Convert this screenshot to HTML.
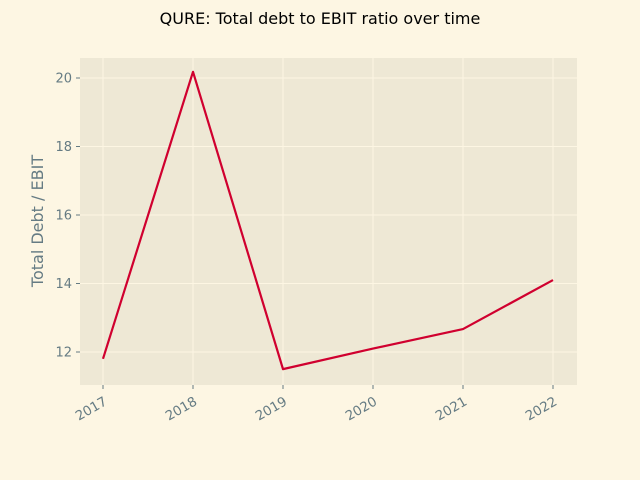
<!DOCTYPE html>
<html><head><meta charset="utf-8"><style>
body{margin:0;background:#fdf6e3;}
svg{display:block;font-family:"DejaVu Sans","Liberation Sans",sans-serif;}
</style></head><body>
<svg id="chart" width="640" height="480" viewBox="0 0 640 480">
<rect x="0" y="0" width="640" height="480" fill="#fdf6e3"/>
<rect x="80" y="58" width="497" height="327" fill="#eee8d5"/>
<g id="grid"></g><g id="ticks"></g>
<text x="320" y="24" text-anchor="middle" font-size="16" fill="#000">QURE: Total debt to EBIT ratio over time</text>
<text transform="translate(43,221) rotate(-90)" text-anchor="middle" font-size="16" fill="#657b83">Total Debt / EBIT</text>
<g id="series"></g>
</svg>
<script>
const years = ["2017","2018","2019","2020","2021","2022"];
const values = [11.8, 20.18, 11.5, 12.1, 12.67, 14.1];
const yTicks = [12, 14, 16, 18, 20];
const NS = "http://www.w3.org/2000/svg";
function x(i){return 103 + i*90;}
function y(v){return 352 - (v-12)*34.25;}
function mk(t,a,p){const e=document.createElementNS(NS,t);for(const k in a)e.setAttribute(k,a[k]);p.appendChild(e);return e;}
const grid=document.getElementById('grid'), ticks=document.getElementById('ticks'), series=document.getElementById('series');
years.forEach((yr,i)=>{
  const g=mk('line',{x1:x(i),x2:x(i),y1:58,y2:385,stroke:'#fdf6e3','stroke-width':1},grid);
  
  
  const t=mk('line',{x1:x(i),x2:x(i),y1:385,y2:389,stroke:'#657b83','stroke-width':1},ticks);
  
  
  const l=mk('text',{x:x(i)+5,y:404,'text-anchor':'end','font-size':13.3,fill:'#657b83',transform:`rotate(-30 ${x(i)+5} 404)`},ticks);
  l.textContent=yr;
  
  
});
yTicks.forEach(v=>{
  const g=mk('line',{x1:80,x2:577,y1:y(v),y2:y(v),stroke:'#fdf6e3','stroke-width':1},grid);
  
  
  const t=mk('line',{x1:76,x2:80,y1:y(v),y2:y(v),stroke:'#657b83','stroke-width':1},ticks);
  
  
  const l=mk('text',{x:72,y:y(v)+4.5,'text-anchor':'end','font-size':13,fill:'#657b83'},ticks);
  l.textContent=v;
  
  
});
const p=mk('polyline',{points:values.map((v,i)=>x(i)+','+y(v)).join(' '),fill:'none',stroke:'#d0002f','stroke-width':2.2,'stroke-linejoin':'round'},series);


</script>
</body></html>
